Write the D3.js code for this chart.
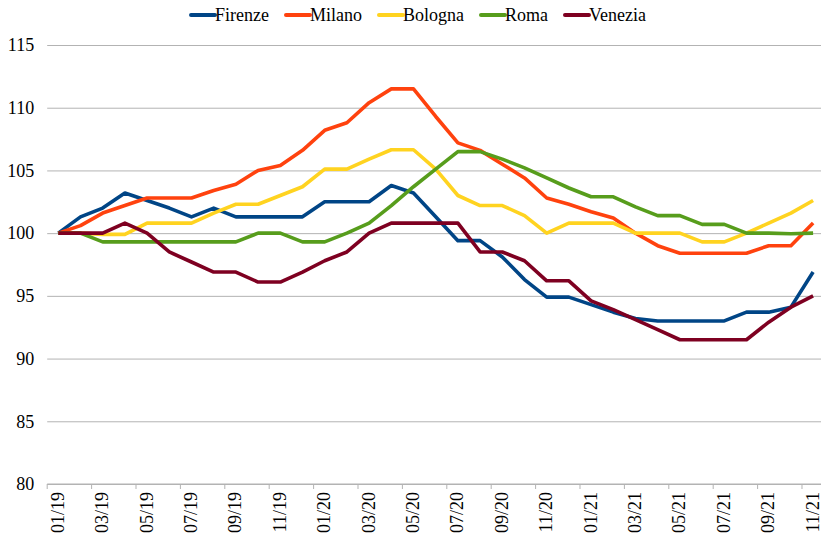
<!DOCTYPE html>
<html>
<head>
<meta charset="utf-8">
<script src="https://cdn.jsdelivr.net/npm/d3@7"></script>
<style>
  body { margin: 0; background: #fff; }
  svg { display: block; font-family: "Liberation Serif", "Times New Roman", serif; }
</style>
</head>
<body>
<div id="chart"></div>
<script>
var months = ["01/19","02/19","03/19","04/19","05/19","06/19","07/19","08/19","09/19","10/19","11/19","12/19",
              "01/20","02/20","03/20","04/20","05/20","06/20","07/20","08/20","09/20","10/20","11/20","12/20",
              "01/21","02/21","03/21","04/21","05/21","06/21","07/21","08/21","09/21","10/21","11/21"];
var yTicks = [80, 85, 90, 95, 100, 105, 110, 115];
var cities = ["Firenze", "Milano", "Bologna", "Roma", "Venezia"];
var colors = ["#004586", "#ff420e", "#ffd320", "#579d1c", "#7e0021"];

var firenze = [100, 101.3, 102.0, 103.2, 102.6, 102.0, 101.3, 102.0, 101.3, 101.3, 101.3, 101.3,
               102.5, 102.5, 102.5, 103.8, 103.2, 101.3, 99.4, 99.4, 98.1, 96.3, 94.9, 94.9,
               94.3, 93.7, 93.2, 93.0, 93.0, 93.0, 93.0, 93.7, 93.7, 94.1, 96.9];
var milano = [100, 100.6, 101.6, 102.2, 102.8, 102.8, 102.8, 103.4, 103.9, 105.0, 105.4, 106.6,
              108.2, 108.8, 110.4, 111.5, 111.5, 109.3, 107.2, 106.6, 105.5, 104.4, 102.8, 102.3,
              101.7, 101.2, 100.0, 99.0, 98.4, 98.4, 98.4, 98.4, 99.0, 99.0, 100.8];
var bologna = [100, 100, 99.9, 99.9, 100.8, 100.8, 100.8, 101.6, 102.3, 102.3, 103.0, 103.7,
               105.1, 105.1, 105.9, 106.65, 106.65, 105.1, 103.0, 102.2, 102.2, 101.4, 100.0, 100.8,
               100.8, 100.8, 100.0, 100.0, 100.0, 99.3, 99.3, 100.0, 100.8, 101.6, 102.6];
var roma = [100, 100, 99.3, 99.3, 99.3, 99.3, 99.3, 99.3, 99.3, 100.0, 100.0, 99.3,
            99.3, 100.0, 100.8, 102.2, 103.7, 105.1, 106.5, 106.5, 105.9, 105.2, 104.4, 103.6,
            102.9, 102.9, 102.1, 101.4, 101.4, 100.7, 100.7, 100.0, 100.0, 99.95, 100.0];
var venezia = [100, 100, 100, 100.8, 100.0, 98.5, 97.7, 96.9, 96.9, 96.1, 96.1, 96.9,
               97.8, 98.5, 100.0, 100.8, 100.8, 100.8, 100.8, 98.5, 98.5, 97.8, 96.2, 96.2,
               94.6, 93.9, 93.1, 92.3, 91.5, 91.5, 91.5, 91.5, 92.9, 94.1, 95.0];
var series = [firenze, milano, bologna, roma, venezia];

var width = 821,
    height = 537;
var plotLeft = 47.2, plotTop = 45, plotBottom = 484;
var band = 22.2;

var svg = d3.select('#chart').append('svg')
    .attr('width', width)
    .attr('height', height);

var x = d3.scaleBand()
    .domain(months)
    .range([plotLeft, plotLeft + band * months.length]);
var y = d3.scaleLinear()
    .domain([80, 115])
    .range([plotBottom, plotTop]);

// grid + y labels
var yAxis = svg.append('g')
    .attr('transform', 'translate(' + plotLeft + ',0)')
    .call(d3.axisLeft(y).tickValues(yTicks).tickSize(-(width - plotLeft)).tickPadding(13));
yAxis.select('.domain').remove();
yAxis.selectAll('line').attr('stroke', '#b3b3b3').attr('stroke-width', 1);
yAxis.selectAll('text')
    .attr('fill', '#000')
    .style('font-size', '18px')
    .style('font-family', '"Liberation Serif", serif');

// x axis
var evenMonths = months.filter(function(d, i) { return i % 2 == 0; });
var xAxis = svg.append('g')
    .attr('transform', 'translate(0,' + plotBottom + ')')
    .call(d3.axisBottom(x).tickValues(evenMonths).tickSize(5).tickSizeOuter(0));
xAxis.select('.domain').attr('stroke', '#b3b3b3').attr('d', 'M' + plotLeft + ',0H' + width);
xAxis.selectAll('.tick line')
    .attr('stroke', '#b3b3b3')
    .attr('x1', -band / 2).attr('x2', -band / 2);
xAxis.selectAll('.tick text')
    .attr('fill', '#000')
    .style('font-size', '18px')
    .style('font-family', '"Liberation Serif", serif')
    .attr('text-anchor', 'end')
    .attr('dy', null)
    .attr('dominant-baseline', 'central')
    .attr('transform', 'translate(-0.5,8) rotate(-90)')
    .attr('x', 0).attr('y', 0);

// lines
var line = d3.line()
    .x(function(d, i) { return x(months[i]) + x.bandwidth() / 2; })
    .y(function(d) { return y(d); });

svg.append('g').selectAll('path')
    .data(series)
    .enter().append('path')
    .attr('d', line)
    .attr('fill', 'none')
    .attr('stroke', function(d, i) { return colors[i]; })
    .attr('stroke-width', 3.6)
    .attr('stroke-linejoin', 'round');

// legend
var legend = svg.append('g').attr('class', 'legend');
var items = legend.selectAll('g')
    .data(cities)
    .enter().append('g');
items.append('line')
    .attr('x1', 0).attr('x2', 24)
    .attr('y1', 15).attr('y2', 15)
    .attr('stroke', function(d, i) { return colors[i]; })
    .attr('stroke-width', 4)
    .attr('stroke-linecap', 'round');
items.append('text')
    .attr('x', 24)
    .attr('y', 15)
    .attr('dominant-baseline', 'central')
    .style('font-size', '18px')
    .text(function(d) { return d; });

var pos = 0;
var offs = [];
items.each(function() {
    offs.push(pos);
    var w = 24 + d3.select(this).select('text').node().getComputedTextLength();
    pos += w + 17;
});
var total = pos - 17;
var start = 418.5 - total / 2;
items.attr('transform', function(d, i) { return 'translate(' + (start + offs[i]) + ',0)'; });
</script>
</body>
</html>
